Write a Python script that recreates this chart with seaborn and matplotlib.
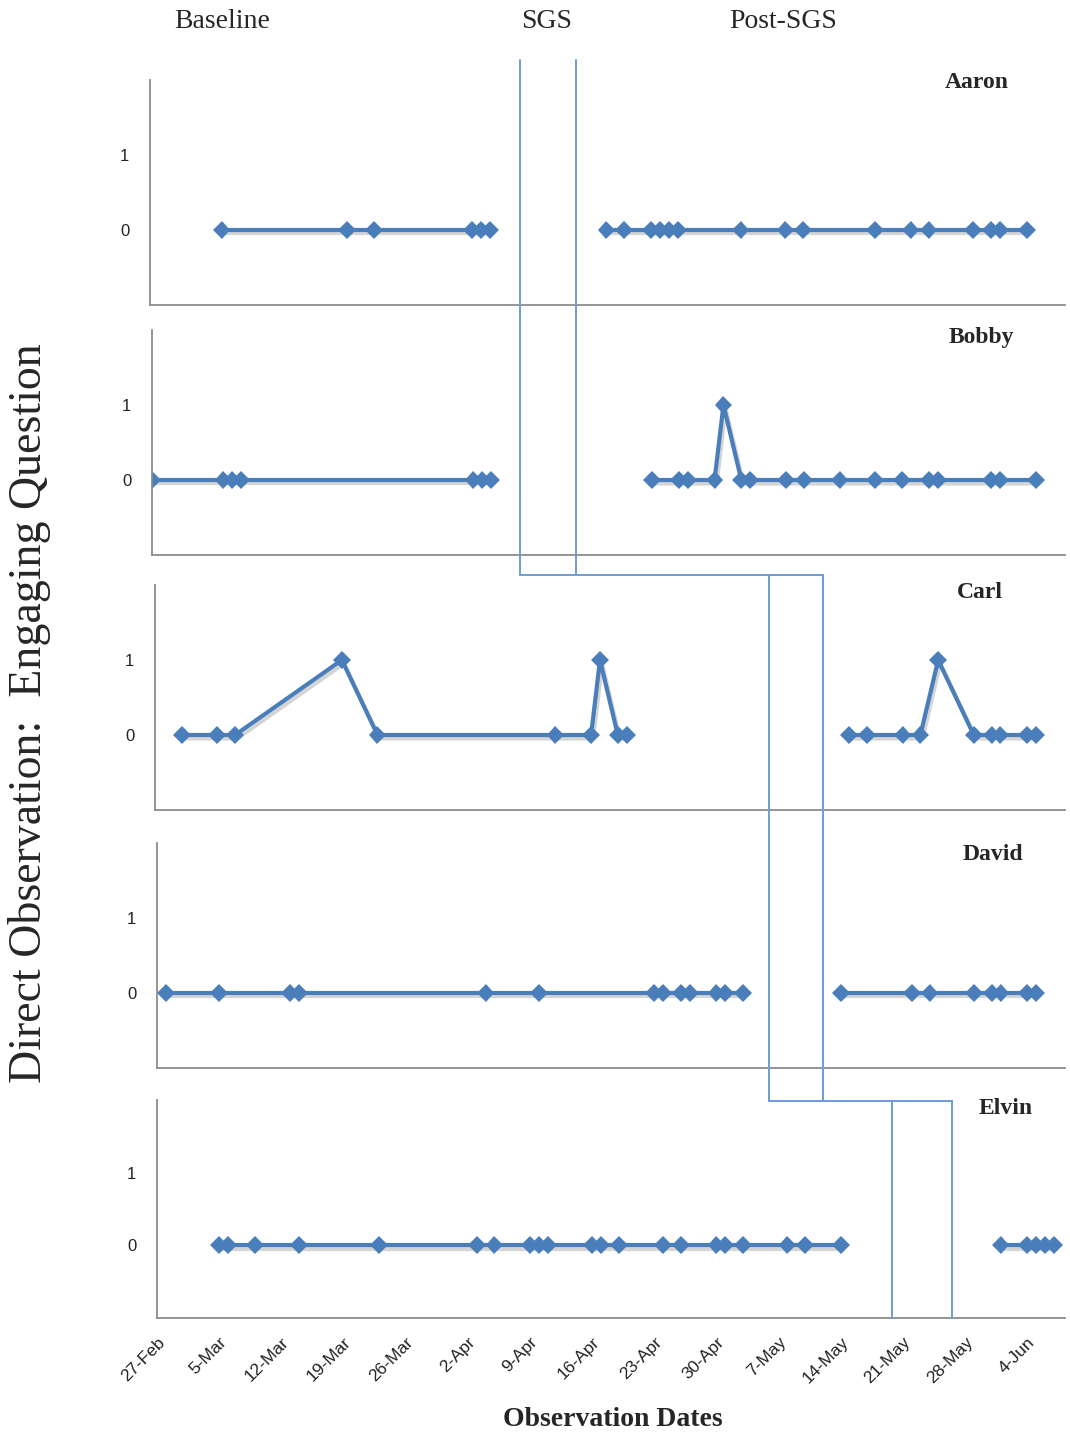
import matplotlib.pyplot as plt
import matplotlib.dates as mdates
import matplotlib.patheffects as pe
from matplotlib.lines import Line2D
import seaborn as sns
import pandas as pd

# participants
names = ["Aaron", "Bobby", "Carl", "David", "Elvin"]

# observation dates (2012) and scores, baseline / post-SGS
aaron_base = ["03-06", "03-20", "03-23", "04-03", "04-04", "04-05"]
aaron_base_val = [0, 0, 0, 0, 0, 0]
aaron_post = ["04-18", "04-20", "04-23", "04-24", "04-25", "04-26", "05-03", "05-08",
              "05-10", "05-18", "05-22", "05-24", "05-29", "05-31", "06-01", "06-04"]
aaron_post_val = [0] * 16

bobby_base = ["02-27", "03-06", "03-07", "03-08", "04-03", "04-04", "04-05"]
bobby_base_val = [0, 0, 0, 0, 0, 0, 0]
bobby_post = ["04-23", "04-26", "04-27", "04-30", "05-01", "05-03", "05-04", "05-08", "05-10",
              "05-14", "05-18", "05-21", "05-24", "05-25", "05-31", "06-01", "06-05"]
bobby_post_val = [0, 0, 0, 0, 1, 0, 0, 0, 0, 0, 0, 0, 0, 0, 0, 0, 0]

carl_base = ["03-01", "03-05", "03-07", "03-19", "03-23", "04-12", "04-16", "04-17", "04-19", "04-20"]
carl_base_val = [0, 0, 0, 1, 0, 0, 0, 1, 0, 0]
carl_post = ["05-15", "05-17", "05-21", "05-23", "05-25", "05-29", "05-31", "06-01", "06-04", "06-05"]
carl_post_val = [0, 0, 0, 0, 1, 0, 0, 0, 0, 0]

david_base = ["02-28", "03-05", "03-13", "03-14", "04-04", "04-10", "04-23", "04-24",
              "04-26", "04-27", "04-30", "05-01", "05-03"]
david_base_val = [0] * 13
david_post = ["05-14", "05-22", "05-24", "05-29", "05-31", "06-01", "06-04", "06-05"]
david_post_val = [0] * 8

elvin_base = ["03-05", "03-06", "03-09", "03-14", "03-23", "04-03", "04-05", "04-09", "04-10",
              "04-11", "04-16", "04-17", "04-19", "04-24", "04-26", "04-30", "05-01", "05-03",
              "05-08", "05-10", "05-14"]
elvin_base_val = [0] * 21
elvin_post = ["06-01", "06-04", "06-05", "06-06", "06-07"]
elvin_post_val = [0] * 5

# SGS phase boundaries (start, end) per tier
sgs_tier1 = ["2012-04-08 07:00", "2012-04-14 14:00"]   # Aaron, Bobby
sgs_tier2 = ["2012-05-05 22:00", "2012-05-12 01:00"]   # Carl, David
sgs_tier3 = ["2012-05-19 19:00", "2012-05-26 12:00"]   # Elvin

tick_dates = pd.date_range("2012-02-27", "2012-06-04", freq="7D")
x_min, x_max = pd.Timestamp("2012-02-27"), pd.Timestamp("2012-06-08 06:00")

series = [
    (aaron_base, aaron_base_val, aaron_post, aaron_post_val),
    (bobby_base, bobby_base_val, bobby_post, bobby_post_val),
    (carl_base, carl_base_val, carl_post, carl_post_val),
    (david_base, david_base_val, david_post, david_post_val),
    (elvin_base, elvin_base_val, elvin_post, elvin_post_val),
]

W, H = 1070, 1437
# panel layout in pixels: left, top, bottom
panels_px = [(150, 80, 305), (152, 330, 555), (155, 585, 810), (157, 843, 1068), (157, 1100, 1318)]
name_px = [(977, 82), (981, 338), (980, 592), (993, 855), (1006, 1108)]

sns.set_style("white")
plt.rcParams["font.family"] = ["Liberation Sans", "DejaVu Sans"]

fig = plt.figure(figsize=(W / 100, H / 100), dpi=100)
line_col = "#4A7EBB"
phase_col = "#6F9CD6"
shadow = [pe.SimpleLineShadow(offset=(1.5, -2.5), alpha=0.25, shadow_color="#555555"), pe.Normal()]

axes = []
for i, (d1, v1, d2, v2) in enumerate(series):
    l, t, b = panels_px[i]
    ax = fig.add_axes([l / W, 1 - b / H, (1065 - l) / W, (b - t) / H])
    for d, v in [(d1, v1), (d2, v2)]:
        df = pd.DataFrame({"date": pd.to_datetime(["2012-" + s for s in d]), "value": v})
        sns.lineplot(data=df, x="date", y="value", ax=ax, color=line_col, linewidth=3,
                     marker="D", markersize=9, markeredgewidth=0, estimator=None,
                     path_effects=shadow)
    ax.set_xlim(x_min, x_max)
    ax.set_ylim(-1, 2)
    ax.set_yticks([0, 1])
    ax.set_xticks(tick_dates)
    ax.xaxis.set_major_formatter(mdates.DateFormatter("%-d-%b"))
    for s in ["top", "right"]:
        ax.spines[s].set_visible(False)
    for s in ["left", "bottom"]:
        ax.spines[s].set_color("#8C8C8C")
        ax.spines[s].set_linewidth(1.3)
    ax.tick_params(axis="both", direction="out", length=5, width=1.2, color="#8C8C8C",
                   labelsize=12, labelcolor="#222222")
    ax.tick_params(axis="y", pad=10)
    ax.set_xlabel("")
    ax.set_ylabel("")
    if i < len(series) - 1:
        ax.tick_params(axis="x", labelbottom=False)
    else:
        ax.tick_params(axis="x", pad=7)
        for lab in ax.get_xticklabels():
            lab.set_rotation(45)
            lab.set_ha("right")
            lab.set_rotation_mode("anchor")
            lab.set_fontsize(12.5)
    nx, ny = name_px[i]
    fig.text(nx / W, 1 - ny / H, names[i], ha="center", va="center",
             family="Liberation Serif", fontweight="bold", fontsize=17)
    axes.append(ax)


def fx(ax, d):
    p = ax.transData.transform((mdates.date2num(pd.Timestamp(d)), 0))
    return fig.transFigure.inverted().transform(p)[0]


def fy(px):
    return 1 - px / H


def seg(x, y):
    fig.add_artist(Line2D(x, y, transform=fig.transFigure, color=phase_col, linewidth=1.4))


a1, a2 = fx(axes[0], sgs_tier1[0]), fx(axes[0], sgs_tier1[1])
c1, c2 = fx(axes[3], sgs_tier2[0]), fx(axes[3], sgs_tier2[1])
e1, e2 = fx(axes[4], sgs_tier3[0]), fx(axes[4], sgs_tier3[1])
seg([a1, a1], [fy(60), fy(575)])
seg([a2, a2], [fy(60), fy(575)])
seg([a1, c2], [fy(575), fy(575)])
seg([c1, c1], [fy(575), fy(1101)])
seg([c2, c2], [fy(575), fy(1101)])
seg([c1, e2], [fy(1101), fy(1101)])
seg([e1, e1], [fy(1101), fy(1318)])
seg([e2, e2], [fy(1101), fy(1318)])

# phase headers
for label, xp in [("Baseline", 222), ("SGS", 547), ("Post-SGS", 783)]:
    fig.text(xp / W, fy(22), label, ha="center", va="center", family="Liberation Serif", fontsize=20)

fig.text(30 / W, fy(713), "Direct Observation:  Engaging Question", rotation=90, ha="center",
         va="center", family="Liberation Serif", fontsize=33)
fig.text(613 / W, fy(1420), "Observation Dates", ha="center", va="center",
         family="Liberation Serif", fontweight="bold", fontsize=20)

fig.savefig("out.png", dpi=100)
